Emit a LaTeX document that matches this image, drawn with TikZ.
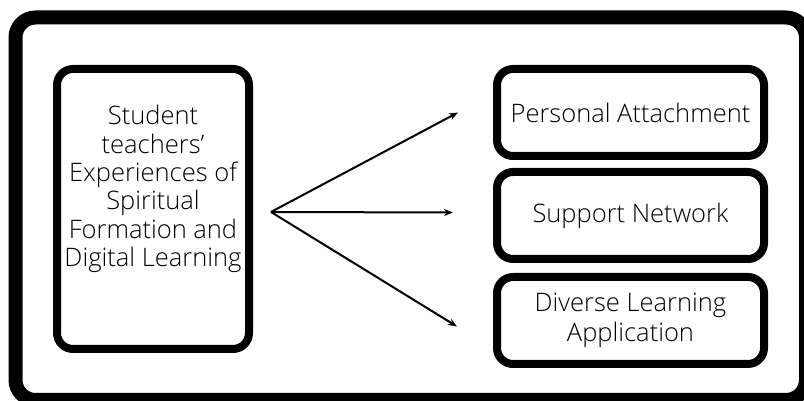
\documentclass[tikz,border=0pt]{standalone}
\usepackage{fontspec}
\setmainfont{Open Sans Light}
\usetikzlibrary{arrows.meta}
\begin{document}
\begin{tikzpicture}[x=1pt, y=1pt,
  frame/.style={draw, line width=14pt, rounded corners=20pt},
  box/.style={draw, line width=8pt, rounded corners=16pt, align=center, font=\fontsize{25.5}{30}\selectfont},
  link/.style={draw, line width=2pt, -{Stealth[length=9pt, width=7pt]}}]
\useasboundingbox (0,0) rectangle (804,401);
\draw[frame] (15.5,383.5) rectangle (806,1);

\node (student) at (153,192) [box, minimum width=192pt, minimum height=280pt] {};
\node (studenttext) at (153,212) [align=center, font=\fontsize{25.5}{28.3}\selectfont] {Student\\teachers’\\Experiences of\\Spiritual\\Formation and\\Digital Learning};

\node (attach) at (630.5,288.5) [box, minimum width=267pt, minimum height=87pt] {Personal Attachment};
\node (network) at (630.5,185.5) [box, minimum width=267pt, minimum height=87pt] {Support Network};
\node (diverse) at (630.5,80.5) [box, minimum width=267pt, minimum height=87pt] {Diverse Learning\\Application};

\coordinate (fork) at ([xshift=18pt, yshift=-3pt]student.east);
\draw[link] (fork) -- ([xshift=-35pt]attach.west);
\draw[link] (fork) -- ([xshift=-40pt, yshift=3pt]network.west);
\draw[link] (fork) -- ([xshift=-36pt, yshift=-6pt]diverse.west);
\end{tikzpicture}
\end{document}
